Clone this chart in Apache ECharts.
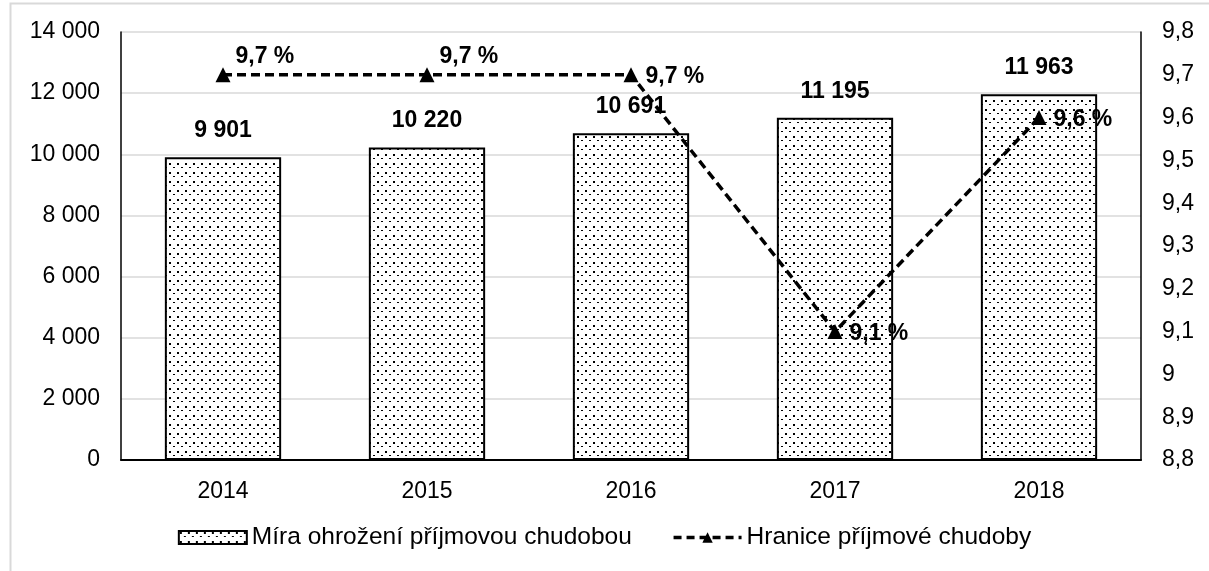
<!DOCTYPE html>
<html>
<head>
<meta charset="utf-8">
<script src="https://cdn.jsdelivr.net/npm/echarts@6/dist/echarts.min.js"></script>
<style>
  html, body { margin: 0; padding: 0; background: #fff; }
  #chart { width: 1209px; height: 571px; }
</style>
</head>
<body>
<div id="chart"></div>
<script>
const years = ["2014", "2015", "2016", "2017", "2018"];
const miraValues = [9901, 10220, 10691, 11195, 11963];
const hraniceValues = [9.7, 9.7, 9.7, 9.1, 9.6];

// dotted fill like the original
function dotPattern() {
  const c = document.createElement("canvas");
  c.width = 8;
  c.height = 9;
  const ctx = c.getContext("2d");
  ctx.fillStyle = "#fff";
  ctx.fillRect(0, 0, 8, 9);
  ctx.fillStyle = "#000";
  ctx.fillRect(1, 1, 2, 2);
  ctx.fillRect(5, 5, 2, 1);
  return c;
}

const thousands = (v) => String(v).replace(/\B(?=(\d{3})+(?!\d))/g, " ");
const decComma = (v) => String(Math.round(v * 10) / 10).replace(".", ",");

const font = "Liberation Sans";
const chart = echarts.init(document.getElementById("chart"));

const lineLabels = hraniceValues.map((v, i) => ({
  value: v,
  label: i < 2 ? { position: "right", offset: [0, -18] } : { position: "right", offset: [2, 2] },
}));

chart.setOption({
  animation: false,
  textStyle: { fontFamily: font },
  graphic: [
    {
      type: "rect",
      shape: { x: 10.5, y: 3.5, width: 1260, height: 620 },
      style: { fill: "none", stroke: "#d9d9d9", lineWidth: 2 },
      silent: true,
    },
  ],
  grid: { left: 121, right: 68, top: 32, bottom: 111 },
  legend: {
    bottom: 16,
    left: "center",
    itemWidth: 68,
    itemHeight: 13,
    itemGap: 40,
    textStyle: { fontFamily: font, fontSize: 24.5, color: "#000" },
    data: [
      { name: "Míra ohrožení příjmovou chudobou", icon: "rect" },
      {
        name: "Hranice příjmové chudoby",
        lineStyle: { width: 3.5, type: [8, 5], color: "#000" },
      },
    ],
  },
  xAxis: {
    type: "category",
    data: years,
    axisLine: { lineStyle: { color: "#000", width: 2 } },
    axisTick: { show: false },
    axisLabel: { color: "#000", fontSize: 23, margin: 20 },
  },
  yAxis: [
    {
      type: "value",
      min: 0,
      max: 14000,
      interval: 2000,
      axisLine: { show: true, lineStyle: { color: "#000", width: 1.5 } },
      axisTick: { show: false },
      axisLabel: { color: "#000", fontSize: 23, margin: 21, formatter: thousands },
      splitLine: { lineStyle: { color: "#d9d9d9", width: 1.5 } },
    },
    {
      type: "value",
      min: 8.8,
      max: 9.8,
      interval: 0.1,
      axisLine: { show: true, lineStyle: { color: "#000", width: 1.5 } },
      axisTick: { show: false },
      axisLabel: { color: "#000", fontSize: 23, margin: 21, formatter: decComma },
      splitLine: { show: false },
    },
  ],
  series: [
    {
      name: "Míra ohrožení příjmovou chudobou",
      type: "bar",
      data: miraValues,
      barWidth: "57%",
      itemStyle: {
        color: { image: dotPattern(), repeat: "repeat" },
        borderColor: "#000",
        borderWidth: 2,
      },
      label: {
        show: true,
        position: "top",
        distance: 15,
        color: "#000",
        fontWeight: "bold",
        fontSize: 23,
        fontFamily: font,
        formatter: (p) => thousands(p.value),
      },
    },
    {
      name: "Hranice příjmové chudoby",
      type: "line",
      yAxisIndex: 1,
      data: lineLabels,
      symbol: "triangle",
      symbolSize: 15,
      lineStyle: { color: "#000", width: 3.5, type: [9, 5] },
      itemStyle: { color: "#000" },
      label: {
        show: true,
        color: "#000",
        fontWeight: "bold",
        fontSize: 23,
        fontFamily: font,
        formatter: (p) => decComma(p.value) + " %",
      },
      z: 3,
    },
  ],
});
</script>
</body>
</html>
